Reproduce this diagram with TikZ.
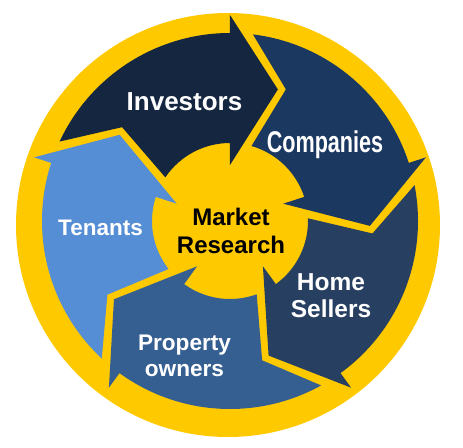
\documentclass[tikz,border=0pt]{standalone}
\usepackage{fontspec}
\setmainfont{Liberation Sans}
\usetikzlibrary{positioning}

\definecolor{ringyellow}{RGB}{255,201,0}
\definecolor{investorsblue}{RGB}{20,38,64}
\definecolor{companiesblue}{RGB}{27,56,96}
\definecolor{sellersblue}{RGB}{39,63,96}
\definecolor{ownersblue}{RGB}{54,95,145}
\definecolor{tenantsblue}{RGB}{85,142,213}

% one curved arrow of the ring: #1 = angle of the head base, #2 = colour
\newcommand{\ringarrow}[2]{%
  \fill[#2] ({#1+65}:188) arc[start angle={#1+65}, end angle={#1}, radius=188]
    -- ({#1}:206) -- ({#1-20}:140) -- ({#1}:56) -- ({#1}:78)
    arc[start angle={#1}, end angle={#1+56}, radius=78]
    -- ({#1+49}:143) -- cycle;}

\begin{document}
\begin{tikzpicture}[
        x=1pt, y=1pt,
        label/.style={text=white, align=center},
        hub/.style={circle, minimum size=150pt, inner sep=0pt, align=center}
    ]
    \useasboundingbox (-228,-222) rectangle (235,225);

    % Yellow disc
    \fill[ringyellow] (0,0) circle[radius=212];

    % Ring of arrows
    \begin{scope}[shift={(2,4)}]
        \ringarrow{90}{investorsblue}
        \ringarrow{18}{companiesblue}
        \ringarrow{-54}{sellersblue}
        \ringarrow{-126}{ownersblue}
        \ringarrow{162}{tenantsblue}
    \end{scope}

    % Centre
    \node[hub, font=\fontsize{24}{28}\selectfont\bfseries] (hub) at (3,-5.7) {Market\\Research};

    % Labels
    \node[label, anchor=base, font=\fontsize{26}{28}\selectfont\bfseries] (investors) at (-43.5,114) {Investors};
    \node[label, anchor=base, font=\fontsize{30}{32}\selectfont\bfseries] (companies) at (97,72) {\scalebox{0.72}[1]{Companies}};
    \node[label, font=\fontsize{24.5}{27}\selectfont\bfseries] (sellers) at (103,-70.3) {Home\\Sellers};
    \node[label, font=\fontsize{22.6}{26}\selectfont\bfseries] (owners) at (-43.5,-131) {Property\\owners};
    \node[label, anchor=base, font=\fontsize{22.5}{26}\selectfont\bfseries] (tenants) at (-127.5,-11) {Tenants};

\end{tikzpicture}
\end{document}
